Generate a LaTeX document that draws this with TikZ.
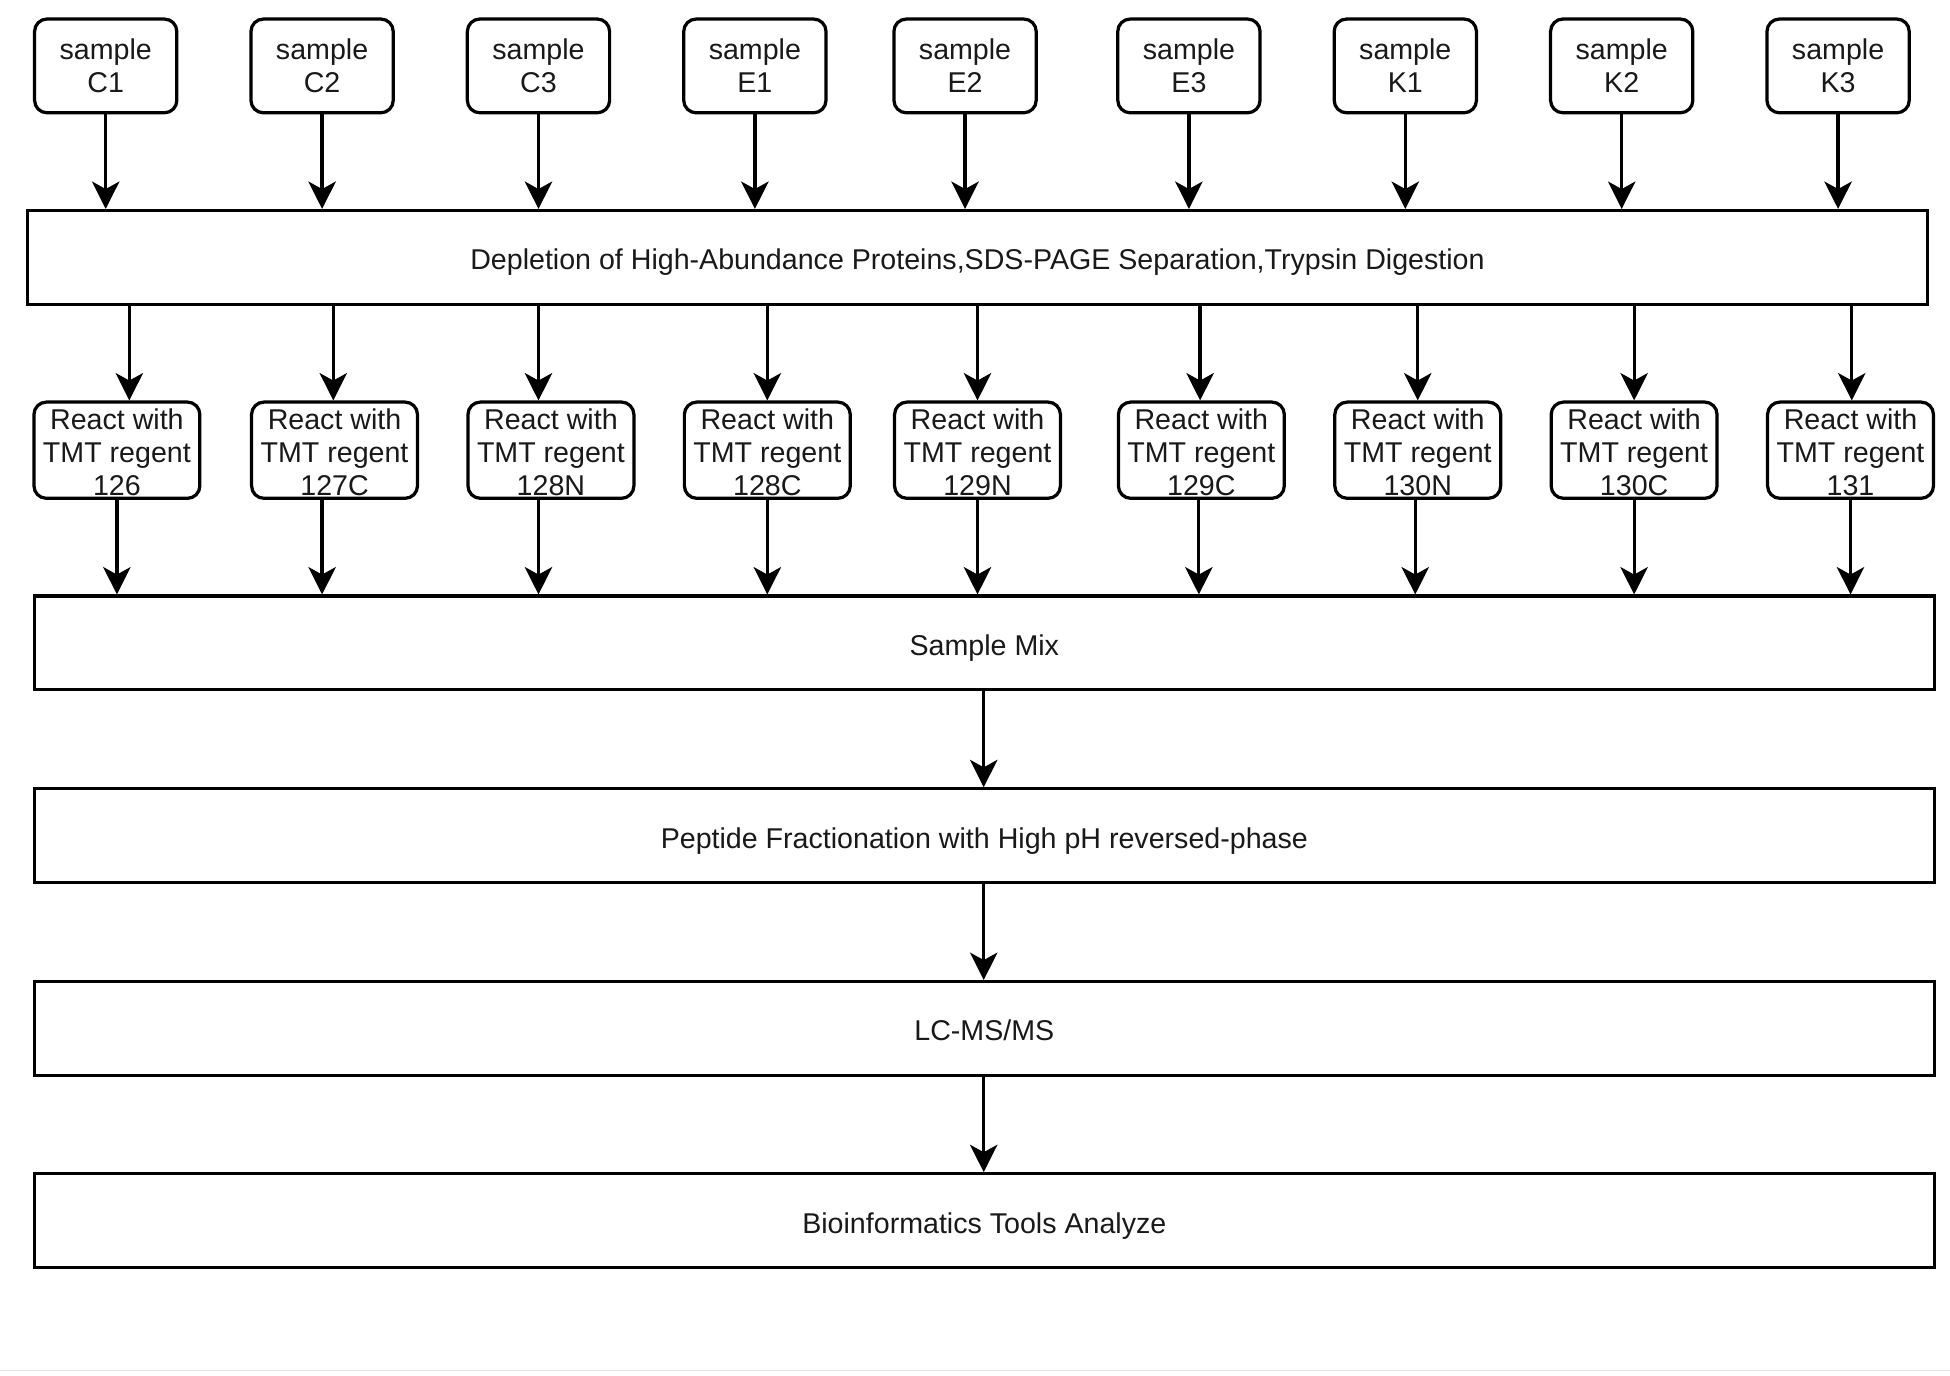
\documentclass[tikz,border=0pt]{standalone}
\usepackage{fontspec}
\setmainfont{Liberation Sans}
\usetikzlibrary{arrows.meta}
\begin{document}
\begin{tikzpicture}[x=1pt,y=-1pt,
  txt/.style={font=\fontsize{23}{26.5}\selectfont, text=black!90, align=center, inner sep=0pt},
  samplebox/.style={txt, draw, line width=2.6pt, rounded corners=10pt,
    minimum width=114.4pt, minimum height=75.4pt},
  reactbox/.style={draw, line width=2.6pt, rounded corners=10pt,
    minimum width=133.4pt, minimum height=77.4pt, inner sep=0pt},
  widebox/.style={txt, draw, line width=2.6pt, minimum width=1528pt, minimum height=75.4pt,
    text height=20pt, text depth=0pt},
  arr/.style={draw, line width=2.6pt, -{Stealth[length=22pt, width=22pt, inset=6pt]}}
]
\useasboundingbox[fill=white] (0,0) rectangle (1568,1106);

% sample boxes
\foreach \n/\x/\lab in {1/85/C1,2/259/C2,3/433/C3,4/607/E1,5/776/E2,6/956/E3,7/1130/K1,8/1304/K2,9/1478/K3}{
  \node[samplebox] (s\n) at (\x,53) {sample\\\lab};
}

\node[widebox] (dep) at (786,207) {Depletion of High-Abundance Proteins,SDS-PAGE Separation,Trypsin Digestion};

% react boxes
\foreach \n/\x/\lab in {1/94/126,2/269/127C,3/443/128N,4/617/128C,5/786/129N,6/966/129C,7/1140/130N,8/1314/130C,9/1488/131}{
  \node[reactbox] (r\n) at (\x,362) {};
  \node[txt] (rt\n) at (\x,364) {React with\\TMT regent\\\lab};
}

\node[widebox] (mix) at (791.5,517) {Sample Mix};
\node[widebox] (pep) at (791.5,672) {Peptide Fractionation with High pH reversed-phase};
\node[widebox] (lc) at (791.5,827) {LC-MS/MS};
\node[widebox] (bio) at (791.5,981.5) {Bioinformatics Tools Analyze};

% arrows sample -> depletion
\foreach \n in {1,...,9}{
  \draw[arr] (s\n.south) -- (s\n.south |- dep.north);
}

% arrows depletion -> react, react -> mix
\foreach \n/\xa/\xb in {1/104/94,2/268/259,3/433/433,4/617/617,5/786/786,6/965/964,7/1140/1138,8/1314/1314,9/1489/1488}{
  \coordinate (ta\n) at (\xa,0);
  \coordinate (tb\n) at (\xb,0);
  \draw[arr] (ta\n |- dep.south) -- (ta\n |- r\n.north);
  \draw[arr] (tb\n |- r\n.south) -- (tb\n |- mix.north);
}

\coordinate (cc) at (791,0);
\draw[arr] (cc |- mix.south) -- (cc |- pep.north);
\draw[arr] (cc |- pep.south) -- (cc |- lc.north);
\draw[arr] (cc |- lc.south) -- (cc |- bio.north);

% faint bottom line
\coordinate (bl) at (0,1102);
\coordinate (br) at (1568,1102);
\draw[black!10, line width=1.5pt] (bl) -- (br);
\end{tikzpicture}
\end{document}
